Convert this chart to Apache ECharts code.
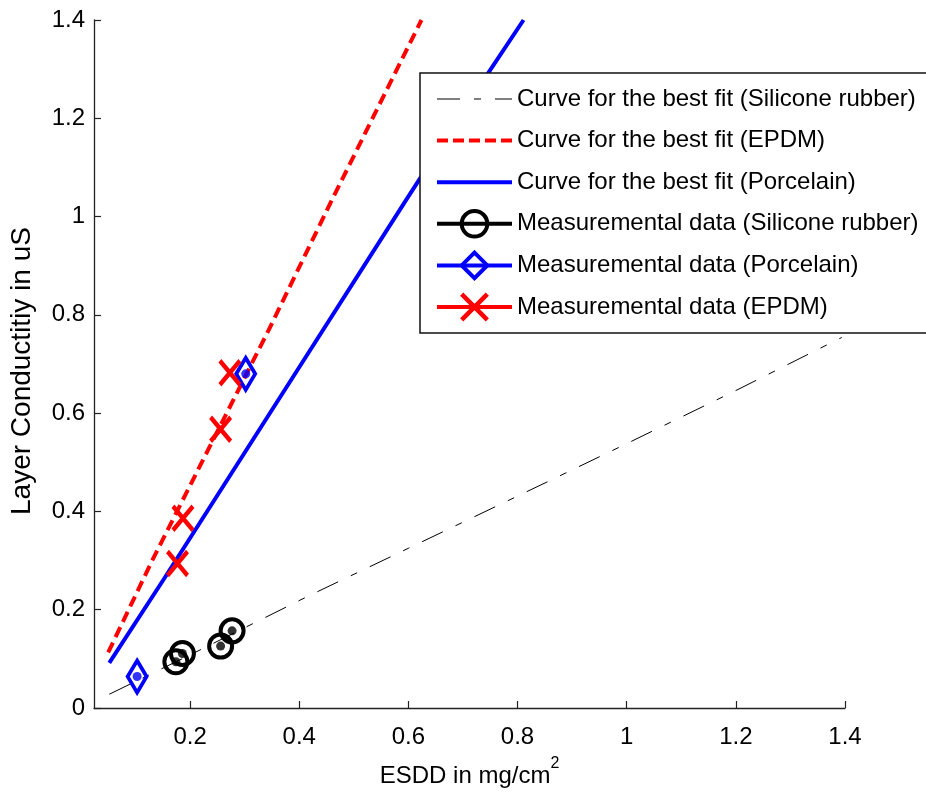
<!DOCTYPE html>
<html>
<head>
<meta charset="utf-8">
<script src="https://cdn.jsdelivr.net/npm/echarts@6/dist/echarts.min.js"></script>
<style>
html,body{margin:0;padding:0;background:#fff;}
#chart{width:926px;height:795px;}
</style>
</head>
<body>
<div id="chart"></div>
<script>
// ---- data ----
const xTicks = [0.2, 0.4, 0.6, 0.8, 1, 1.2, 1.4];
const yTicks = [0, 0.2, 0.4, 0.6, 0.8, 1, 1.2, 1.4];

// best-fit curves
const fitSilicone = [[0.052, 0.028], [0.2, 0.108], [0.417, 0.228], [0.6, 0.325], [0.858, 0.462], [1.0, 0.538], [1.2, 0.646], [1.394, 0.754]];
const fitEPDM = [[0.050, 0.113], [0.131, 0.301], [0.344, 0.769], [0.460, 1.034], [0.624, 1.400]];
const fitPorcelain = [[0.052, 0.092], [0.153, 0.264], [0.405, 0.702], [0.596, 1.034], [0.748, 1.295], [0.811, 1.400]];

// measurements
const measSilicone = [[0.174, 0.094], [0.186, 0.111], [0.256, 0.126], [0.277, 0.157]];
const measPorcelain = [[0.103, 0.064], [0.302, 0.680]];
const measEPDM = [[0.177, 0.294], [0.187, 0.386], [0.256, 0.567], [0.273, 0.682]];

const names = [
  'Curve for the best fit (Silicone rubber)',
  'Curve for the best fit (EPDM)',
  'Curve for the best fit (Porcelain)',
  'Measuremental data (Silicone rubber)',
  'Measuremental data (Porcelain)',
  'Measuremental data (EPDM)'
];

const FONT = '"Liberation Sans", Arial, Helvetica, sans-serif';
const RED = '#ff0000', BLUE = '#0000ff', BLACK = '#000000';
const X_PATH = 'path://M0,0L10,11M10,0L0,11';
const DIAMOND_PATH = 'path://M6,0L12,10L6,20L0,10Z';
const DASHDOT = [23, 14, 7, 14];

const fmt = v => String(+(+v).toFixed(1));
const hiddenSym = {color: 'rgba(0,0,0,0)', borderColor: 'rgba(0,0,0,0)', borderWidth: 0, opacity: 0};

const chart = echarts.init(document.getElementById('chart'), null, {renderer: 'canvas'});
chart.setOption({
  animation: false,
  backgroundColor: '#ffffff',
  grid: {left: 91, right: 81, top: 20, bottom: 87, containLabel: false},
  xAxis: {
    type: 'value', min: 0.024, max: 1.4,
    name: '{a|ESDD in mg/cm}{b|2}',
    nameLocation: 'middle', nameGap: 48,
    nameTextStyle: {
      color: BLACK, fontFamily: FONT,
      rich: {
        a: {fontSize: 24, fontFamily: FONT, color: BLACK, lineHeight: 40},
        b: {fontSize: 16, fontFamily: FONT, color: BLACK, lineHeight: 16, verticalAlign: 'top'}
      }
    },
    axisLine: {show: true, onZero: false, lineStyle: {color: '#222', width: 1.3}},
    axisTick: {show: true, inside: true, length: 7, customValues: xTicks, lineStyle: {color: '#222', width: 1.2}},
    axisLabel: {show: true, customValues: xTicks, formatter: fmt, fontSize: 24, fontFamily: FONT, color: BLACK, margin: 17},
    splitLine: {show: false}
  },
  yAxis: {
    type: 'value', min: 0, max: 1.4, interval: 0.2,
    name: 'Layer Conductitiy in uS',
    nameLocation: 'middle', nameGap: 58, nameRotate: 90,
    nameTextStyle: {fontSize: 28, fontFamily: FONT, color: BLACK, padding: [0, 14, 0, 0]},
    axisLine: {show: true, onZero: false, lineStyle: {color: '#222', width: 1.3}},
    axisTick: {show: true, inside: true, length: 7, lineStyle: {color: '#222', width: 1.2}},
    axisLabel: {show: true, formatter: fmt, fontSize: 24, fontFamily: FONT, color: BLACK, margin: 9},
    splitLine: {show: false}
  },
  legend: {
    orient: 'vertical',
    left: 420, top: 73,
    backgroundColor: '#ffffff',
    borderColor: '#111', borderWidth: 1.5,
    padding: [10, 20, 10, 15],
    itemWidth: 75, itemHeight: 32, itemGap: 9.6,
    symbolKeepAspect: true,
    selectedMode: false,
    textStyle: {fontSize: 24, fontFamily: FONT, color: BLACK, lineHeight: 32},
    data: [
      {name: names[0], itemStyle: hiddenSym, lineStyle: {width: 1, color: BLACK, type: DASHDOT}},
      {name: names[1], itemStyle: hiddenSym, lineStyle: {width: 4, color: RED, type: [11, 5]}},
      {name: names[2], itemStyle: hiddenSym, lineStyle: {width: 4, color: BLUE, type: 'solid'}},
      {name: names[3], itemStyle: {borderWidth: 4}, lineStyle: {width: 4, color: BLACK, type: 'solid', opacity: 1}},
      {name: names[4], itemStyle: {borderWidth: 4}, lineStyle: {width: 4, color: BLUE, type: 'solid', opacity: 1}},
      {name: names[5], itemStyle: {borderWidth: 4.5}, lineStyle: {width: 4, color: RED, type: 'solid', opacity: 1}}
    ]
  },
  series: [
    {
      name: names[0], type: 'line', data: fitSilicone, symbol: 'none', showSymbol: false,
      lineStyle: {color: BLACK, width: 1, type: DASHDOT}, itemStyle: {color: BLACK}, z: 2
    },
    {
      name: names[1], type: 'line', data: fitEPDM, symbol: 'none', showSymbol: false,
      lineStyle: {color: RED, width: 4, type: [11, 6]}, itemStyle: {color: RED}, z: 2
    },
    {
      name: names[2], type: 'line', data: fitPorcelain, symbol: 'none', showSymbol: false,
      lineStyle: {color: BLUE, width: 4, type: 'solid'}, itemStyle: {color: BLUE}, z: 2
    },
    {
      name: names[3], type: 'line', data: measSilicone, symbol: 'circle', symbolSize: 23, showSymbol: true,
      lineStyle: {width: 0, opacity: 0},
      itemStyle: {color: 'rgba(0,0,0,0)', borderColor: BLACK, borderWidth: 4}, z: 3
    },
    {
      name: names[4], type: 'line', data: measPorcelain, symbol: DIAMOND_PATH, symbolSize: [19, 32], symbolKeepAspect: false, showSymbol: true,
      lineStyle: {width: 0, opacity: 0},
      itemStyle: {color: 'rgba(0,0,0,0)', borderColor: BLUE, borderWidth: 4}, z: 3
    },
    {
      name: names[5], type: 'line', data: measEPDM, symbol: X_PATH, symbolSize: [20, 24], symbolKeepAspect: false, showSymbol: true,
      lineStyle: {width: 0, opacity: 0},
      itemStyle: {color: RED, borderColor: RED, borderWidth: 4.5}, z: 3
    },
    {
      name: 'dotsSilicone', type: 'scatter', data: measSilicone, symbol: 'circle', symbolSize: 9,
      itemStyle: {color: BLACK}, silent: true, z: 4
    },
    {
      name: 'dotsPorcelain', type: 'scatter', data: measPorcelain, symbol: 'circle', symbolSize: 9,
      itemStyle: {color: BLUE}, silent: true, z: 4
    }
  ]
});
</script>
</body>
</html>
